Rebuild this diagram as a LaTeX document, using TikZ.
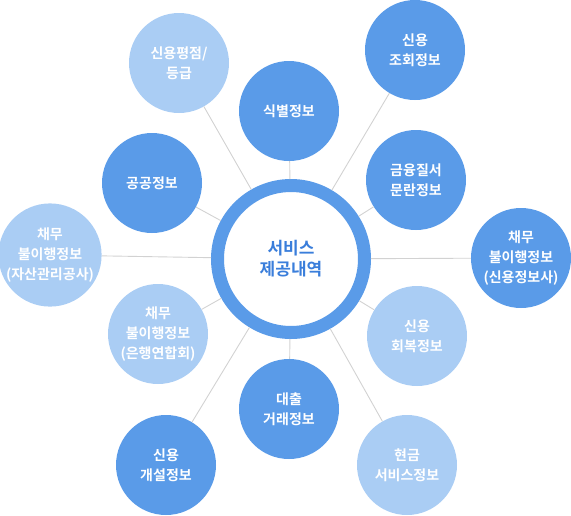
\documentclass[tikz,border=0pt]{standalone}
\usepackage{fontspec}
\newfontfamily\krbold{Noto Sans CJK KR Bold}
\usetikzlibrary{positioning}
\definecolor{midblue}{HTML}{5A9BE8}
\definecolor{lightblue}{HTML}{AACDF4}
\definecolor{titleblue}{HTML}{3A7EDB}
\definecolor{linegray}{HTML}{D2D2D2}

\begin{document}
\begin{tikzpicture}[x=1pt,y=-1pt]
  \tikzstyle{info}=[circle,minimum size=100pt,inner sep=0pt,align=center,text=white,font=\krbold\fontsize{14}{20}\selectfont]
  \tikzstyle{dark}=[info,fill=midblue]
  \tikzstyle{light}=[info,fill=lightblue]
  \tikzstyle{link}=[draw=linegray,line width=0.9pt]

  \useasboundingbox (0,0) rectangle (571,515);

  \node[circle,draw=midblue,line width=13pt,fill=white,minimum size=147pt,inner sep=0pt,align=center,text=titleblue,font=\krbold\fontsize{17}{21}\selectfont] (svc) at (291,259) {서비스\\제공내역};

  \node[light] (rating) at (179,63) {신용평점/\\등급};
  \node[dark] (ident) at (289,111) {식별정보};
  \node[dark] (inquiry) at (415,50) {신용\\조회정보};
  \node[dark] (public) at (152,183) {공공정보};
  \node[dark] (disorder) at (416,180) {금융질서\\문란정보};
  \node[light] (kamco) at (50,255) {채무\\불이행정보\\(자산관리공사)};
  \node[dark] (cb) at (521,258) {채무\\불이행정보\\(신용정보사)};
  \node[light] (kfb) at (158,334) {채무\\불이행정보\\(은행연합회)};
  \node[light] (recovery) at (417,336) {신용\\회복정보};
  \node[dark] (loan) at (289,409) {대출\\거래정보};
  \node[dark] (opening) at (166,465) {신용\\개설정보};
  \node[light] (cash) at (407,465) {현금\\서비스정보};

  \draw[link] (svc) -- (rating);
  \draw[link] (svc) -- (ident);
  \draw[link] (svc) -- (inquiry);
  \draw[link] (svc) -- (public);
  \draw[link] (svc) -- (disorder);
  \draw[link] (svc) -- (kamco);
  \draw[link] (svc) -- (cb);
  \draw[link] (svc) -- (kfb);
  \draw[link] (svc) -- (recovery);
  \draw[link] (svc) -- (loan);
  \draw[link] (svc) -- (opening);
  \draw[link] (svc) -- (cash);
\end{tikzpicture}
\end{document}
